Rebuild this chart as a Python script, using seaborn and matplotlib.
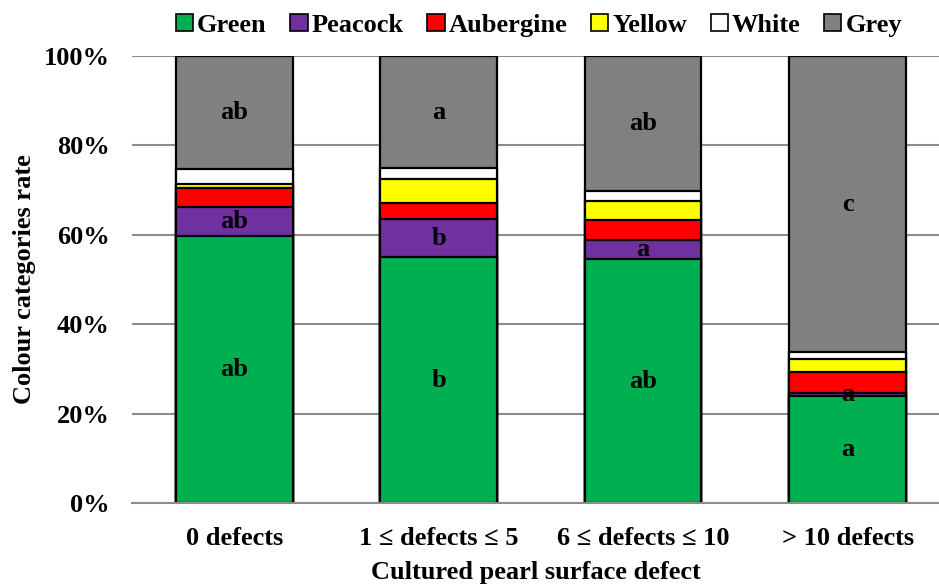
import numpy as np
import pandas as pd
import seaborn as sns
import matplotlib.pyplot as plt
from matplotlib.patches import Patch
from matplotlib.ticker import PercentFormatter

# --- data (percent of pearls per colour) ---
defect_groups = ['0 defects', '1 ≤ defects ≤ 5', '6 ≤ defects ≤ 10', '> 10 defects']
colour_names = ['Green', 'Peacock', 'Aubergine', 'Yellow', 'White', 'Grey']
colour_hex = ['#00B050', '#7030A0', '#FF0000', '#FFFF00', '#FFFFFF', '#808080']

green = [59.7, 55.0, 54.5, 24.0]
peacock = [6.5, 8.5, 4.3, 0.6]
aubergine = [4.3, 3.7, 4.5, 4.6]
yellow = [0.8, 5.3, 4.3, 3.0]
white = [3.4, 2.4, 2.3, 1.5]
grey = [25.3, 25.1, 30.1, 66.3]

# significance letters for green, peacock and grey segments
green_letters = ['ab', 'b', 'ab', 'a']
peacock_letters = ['ab', 'b', 'a', 'a']
grey_letters = ['ab', 'a', 'ab', 'c']

series = [green, peacock, aubergine, yellow, white, grey]
df = pd.DataFrame(np.array(series).T, columns=colour_names)
df['Group'] = defect_groups
tops = df[colour_names].cumsum(axis=1)
bottoms = tops - df[colour_names]

sns.set_theme(style='white')
plt.rcParams['font.family'] = ['Liberation Serif', 'DejaVu Serif']
plt.rcParams['font.weight'] = 'bold'
for key in ['text.color', 'axes.labelcolor', 'xtick.color', 'ytick.color']:
    plt.rcParams[key] = 'black'
fs = 19

fig = plt.figure(figsize=(9.39, 5.87), dpi=100)
ax = fig.add_axes([0.1406, 0.1431, 0.871, 0.7615])

# stacked bars: draw cumulative heights from the top layer down
for name, col in reversed(list(zip(colour_names, colour_hex))):
    sns.barplot(x=df['Group'], y=tops[name], order=defect_groups, color=col,
                width=0.57, edgecolor='black', linewidth=1.6, saturation=1,
                ax=ax, errorbar=None)

# letters at the centre of their segments
for i in range(len(defect_groups)):
    for name, letters in [('Green', green_letters), ('Peacock', peacock_letters), ('Grey', grey_letters)]:
        mid = (bottoms[name][i] + tops[name][i]) / 2
        ax.text(i, mid, letters[i], ha='center', va='center', fontsize=fs, fontweight='bold', color='black')

ax.set_xlim(-0.5, 3.5)
ax.set_ylim(0, 100)
ax.set_yticks([0, 20, 40, 60, 80, 100])
ax.yaxis.set_major_formatter(PercentFormatter(decimals=0))
ax.yaxis.grid(True, color='#8c8c8c', linewidth=1.5)
ax.set_axisbelow(True)
for s in ['left', 'right', 'top']:
    ax.spines[s].set_visible(False)
ax.spines['bottom'].set_color('#8c8c8c')
ax.spines['bottom'].set_linewidth(1.5)
ax.tick_params(axis='both', length=0, labelsize=fs)
ax.tick_params(axis='y', pad=16)
ax.tick_params(axis='x', pad=17)
for lab in ax.get_xticklabels() + ax.get_yticklabels():
    lab.set_fontweight('bold')

ax.set_xlabel('Cultured pearl surface defect', fontsize=fs, fontweight='bold')
ax.set_ylabel('Colour categories rate', fontsize=fs, fontweight='bold')
ax.xaxis.set_label_coords(0.494, -0.13)
ax.yaxis.set_label_coords(-0.118, 0.5)

handles = [Patch(facecolor=c, edgecolor='black', linewidth=1.2) for c in colour_hex]
fig.legend(handles, colour_names, loc='center', bbox_to_anchor=(0.574, 0.957),
           ncol=6, frameon=False, handlelength=0.65, handleheight=0.65,
           handletextpad=0.15, columnspacing=0.9, prop={'size': fs, 'weight': 'bold'})

fig.savefig('out.png', dpi=100)
